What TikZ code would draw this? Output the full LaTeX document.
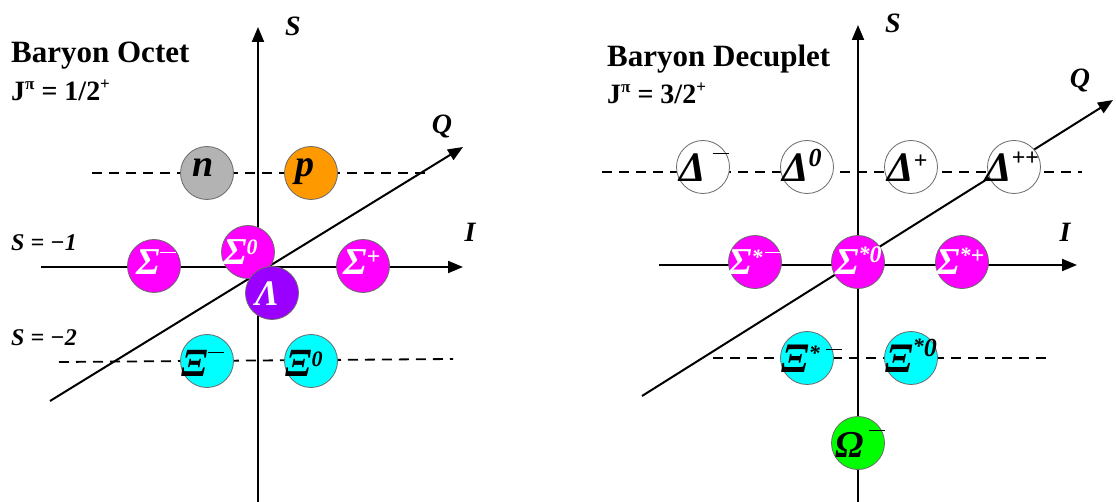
\documentclass[tikz,border=0pt]{standalone}
\usepackage{fontspec}
\setmainfont{Liberation Serif}
\usetikzlibrary{arrows.meta,calc}
\definecolor{cgray}{HTML}{B3B3B3}
\definecolor{corange}{HTML}{FF9900}
\definecolor{cmag}{HTML}{FF00FF}
\definecolor{cpurp}{HTML}{9900FF}
\definecolor{ccyan}{HTML}{00FFFF}
\definecolor{cgreen}{HTML}{00FF00}
\definecolor{cedge}{HTML}{6A6A6A}
\newcommand\bl[2]{{\fontsize{#1}{#1}\selectfont #2}}
\newcommand\supx[3][24]{\raisebox{#2}{\fontsize{#1}{#1}\selectfont #3}}
\newcommand\mn[1]{\raisebox{#1}{\rule{16pt}{1.3pt}}}
\tikzset{
  axis/.style={line width=2pt, -{Triangle[length=15pt,width=12pt]}},
  dline/.style={line width=1.8pt, dash pattern=on 10pt off 7pt},
  part/.style={circle, draw=cedge, line width=0.8pt, minimum size=53pt, inner sep=0pt},
  lbl/.style={inner sep=0pt, anchor=base west, font=\bfseries\itshape},
  axlbl/.style={inner sep=0pt, font=\fontsize{28}{28}\selectfont\bfseries\itshape},
  ttl/.style={inner sep=0pt, anchor=base west, font=\fontsize{31}{31}\selectfont\bfseries},
  jp/.style={inner sep=0pt, anchor=base west, font=\fontsize{28}{28}\selectfont\bfseries},
  slbl/.style={inner sep=0pt, anchor=west, font=\fontsize{24}{24}\selectfont\bfseries\itshape}
}
\begin{document}
\begin{tikzpicture}[x=1pt,y=-1pt]
\useasboundingbox (0,0) rectangle (1116,502);
% ---------------- left: octet ----------------
\coordinate (LSb) at (258,502); \coordinate (LSt) at (258,27);
\coordinate (LIl) at (41,267);  \coordinate (LIr) at (463,267);
\coordinate (LQl) at (50,401);  \coordinate (LQr) at (463,147);
\coordinate (LDa) at (92,173);  \coordinate (LDb) at (428,173);
\coordinate (LDc) at (59,362);  \coordinate (LDd) at (453,359);
\draw[dline] (LDa) -- (LDb);
\draw[dline] (LDc) -- (LDd);
\draw[axis] (LSb) -- (LSt);
\draw[axis] (LIl) -- (LIr);
\draw[axis] (LQl) -- (LQr);
\node[axlbl] (LSl) at (293,26) {S};
\node[axlbl] (LQlab) at (442,127) {Q};
\node[axlbl] (LIlab) at (470,232) {I};
\node[ttl] (LT1) at (11,63) {Baryon Octet};
\node[jp] (LT2) at (11,101) {J\supx[17]{11pt}{π} = 1/2\supx[17]{11pt}{+}};
\node[slbl] (LS1) at (11,243) {S = −1};
\node[slbl] (LS2) at (11,338) {S = −2};
\node[part, fill=cgray]   (n)  at (207,173) {};
\node[part, fill=corange] (p)  at (311,173) {};
\node[part, fill=cmag]    (Sm) at (154,266) {};
\node[part, fill=cmag]    (S0) at (248,252) {};
\node[part, fill=cmag]    (Sp) at (363,266) {};
\node[part, fill=cpurp]   (La) at (272,293) {};
\node[part, fill=ccyan]   (Xm) at (207,361) {};
\node[part, fill=ccyan]   (X0) at (311,361) {};
\node[lbl] (nL) at (192,177) {\bl{38}{n}};
\node[lbl] (pL) at (295,177) {\bl{38}{p}};
\node[lbl, text=white] (SmL) at (136,275) {\bl{38}{Σ}\mn{22pt}};
\node[lbl, text=white] (S0L) at (223,265) {\bl{38}{Σ}\supx[22]{10pt}{0}};
\node[lbl, text=white] (SpL) at (343,275) {\bl{38}{Σ}\supx[24]{10pt}{+}};
\node[lbl, text=white] (LaL) at (255,306) {\bl{36}{Λ}};
\node[lbl] (XmL) at (181,377) {\bl{40}{Ξ}\mn{24pt}};
\node[lbl] (X0L) at (285,377) {\bl{40}{Ξ}\supx[22]{10pt}{0}};
% ---------------- right: decuplet ----------------
\coordinate (RSb) at (858,502); \coordinate (RSt) at (858,25);
\coordinate (RIl) at (659,265); \coordinate (RIr) at (1077,265);
\coordinate (RQl) at (642,396); \coordinate (RQr) at (1113,100);
\coordinate (RDa) at (602,172); \coordinate (RDb) at (1082,172);
\coordinate (RDc) at (713,358); \coordinate (RDd) at (1047,358);
\draw[dline] (RDa) -- (RDb);
\draw[dline] (RDc) -- (RDd);
\draw[axis] (RSb) -- (RSt);
\draw[axis] (RIl) -- (RIr);
\draw[axis] (RQl) -- (RQr);
\node[axlbl] (RSl) at (893,23) {S};
\node[axlbl] (RQlab) at (1080,81) {Q};
\node[axlbl] (RIlab) at (1065,232) {I};
\node[ttl] (RT1) at (607,67) {Baryon Decuplet};
\node[jp] (RT2) at (607,104) {J\supx[17]{11pt}{π} = 3/2\supx[17]{11pt}{+}};
\node[part, fill=white] (Dm) at (703,167) {};
\node[part, fill=white] (D0) at (807,167) {};
\node[part, fill=white] (Dp) at (911,167) {};
\node[part, fill=white] (Dpp) at (1014,167) {};
\node[part, fill=cmag]  (Ssm) at (755,262) {};
\node[part, fill=cmag]  (Ss0) at (858,262) {};
\node[part, fill=cmag]  (Ssp) at (962,262) {};
\node[part, fill=ccyan] (Xsm) at (807,358) {};
\node[part, fill=ccyan] (Xs0) at (911,358) {};
\node[part, fill=cgreen] (Om) at (858,443) {};
\node[lbl] (DmL) at (679,182) {\bl{42}{Δ}\hspace{7pt}\mn{28pt}};
\node[lbl] (D0L) at (782,182) {\bl{42}{Δ}\supx[26]{15pt}{0}};
\node[lbl] (DpL) at (887,182) {\bl{42}{Δ}\supx[24]{13pt}{+}};
\node[lbl] (DppL) at (985,182) {\bl{42}{Δ}\supx[24]{16pt}{++}};
\node[lbl, text=white] (SsmL) at (728,275) {\bl{38}{Σ}\supx[22]{10pt}{*}\hspace{2pt}\mn{22pt}};
\node[lbl, text=white] (Ss0L) at (835,275) {\bl{38}{Σ}\supx[22]{13pt}{*}\supx[24]{12pt}{0}};
\node[lbl, text=white] (SspL) at (936,275) {\bl{38}{Σ}\supx[22]{12pt}{*}\supx[24]{11pt}{+}};
\node[lbl] (XsmL) at (781,373) {\bl{42}{Ξ}\supx[22]{13pt}{*}\hspace{6pt}\mn{23pt}};
\node[lbl] (Xs0L) at (885,373) {\bl{42}{Ξ}\supx[22]{19pt}{*}\supx[26]{16pt}{0}};
\node[lbl] (OmL) at (835,457) {\bl{38}{Ω}\hspace{5pt}\mn{26pt}};
\end{tikzpicture}
\end{document}
